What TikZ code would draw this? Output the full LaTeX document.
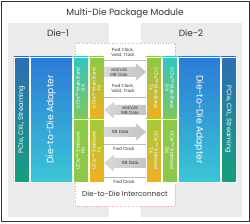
\documentclass[tikz,border=0pt]{standalone}
\usepackage{fontspec}
\setmainfont{Poppins}
\newfontfamily\smallf{Liberation Sans}
\definecolor{panel}{HTML}{EBEBEB}
\definecolor{pinkb}{HTML}{E8A0B4}
\definecolor{pcieT}{HTML}{2D6DB5}
\definecolor{pcieB}{HTML}{16A07C}
\definecolor{adT}{HTML}{2B7BD6}
\definecolor{adB}{HTML}{3AC6D6}
\definecolor{tealc}{HTML}{33C4C0}
\definecolor{greenc}{HTML}{8CC84A}
\definecolor{limec}{HTML}{A4CA3A}
\definecolor{orangec}{HTML}{F2B01E}
\definecolor{arrowgL}{HTML}{D8D8D8}
\definecolor{arrowgR}{HTML}{C4C4C4}
\definecolor{lineg}{HTML}{BBBBBB}
\definecolor{txt}{HTML}{333333}
\tikzset{
  colbox/.style={draw=white, line width=0.6pt, inner sep=0pt, minimum width=#1},
  coltext/.style={text=white, font=\smallf\fontsize{4.9}{5.4}\selectfont, align=center, inner sep=0pt},
  bigtext/.style={text=white, font=\fontsize{9.2}{10}\selectfont, inner sep=0pt},
  pcietext/.style={text=white, font=\fontsize{6.6}{7}\selectfont, inner sep=0pt},
  lbl/.style={text=txt, font=\smallf\fontsize{4.5}{4.9}\selectfont, align=center, inner sep=0pt},
  thinline/.style={draw=lineg, line width=0.4pt},
  blockarrow/.style={left color=arrowgL, right color=arrowgR},
  head/.style={text=txt, font=\fontsize{9}{10}\selectfont, inner sep=0pt}
}
\begin{document}
\begin{tikzpicture}[x=1pt,y=-1pt]
\useasboundingbox (0,0) rectangle (250,224);
\fill[white] (0,0) rectangle (250,224);
\draw[line width=0.9pt, black!80] (1,1) rectangle (249,221);
\node[head] (title) at (125,13) {Multi-Die Package Module};
% die panels
\fill[panel] (8,23) rectangle (109,217);
\fill[panel] (141,23) rectangle (242,217);
\node[head] (die1) at (58,33) {Die-1};
\node[head] (die2) at (191,33) {Die-2};
% interconnect box
\draw[pinkb, dotted, line width=0.7pt, fill=white] (75,43) rectangle (175,206);
\node[text=txt, font=\fontsize{7.2}{8}\selectfont, inner sep=0pt] (d2d) at (125,194) {Die-to-Die Interconnect};
% Die-1 columns
\node[colbox=15pt, minimum height=125pt, top color=pcieT, bottom color=pcieB] (pcie1) at (21.5,119.5) {};
\node[colbox=42pt, minimum height=125pt, top color=adT, bottom color=adB] (ad1) at (51,119.5) {};
\node[colbox=15pt, minimum height=62pt, top color=tealc, bottom color=greenc!85!tealc] (mbrx1) at (80.5,88) {};
\node[colbox=15pt, minimum height=62pt, top color=greenc, bottom color=orangec] (mbtx1) at (96.5,88) {};
\node[colbox=15pt, minimum height=63pt, top color=greenc, bottom color=greenc] (sbrx1) at (80.5,150.5) {};
\node[colbox=15pt, minimum height=63pt, top color=limec, bottom color=orangec] (sbtx1) at (96.5,150.5) {};
\node[pcietext, rotate=90] at (pcie1) {PCIe, CXL, Streaming};
\node[bigtext, rotate=90] at (ad1) {Die-to-Die Adapter};
\node[coltext, rotate=90] at (mbrx1) {UCIe\texttrademark\ Main Band\\RX};
\node[coltext, rotate=90] at (mbtx1) {UCIe\texttrademark\ Main Band\\TX};
\node[coltext, rotate=90] at (sbrx1) {UCIe\texttrademark\ Sideband\\RX};
\node[coltext, rotate=90] at (sbtx1) {UCIe\texttrademark\ Sideband\\TX};
% Die-2 columns
\node[colbox=15pt, minimum height=125pt, top color=pcieT, bottom color=pcieB] (pcie2) at (228.5,119.5) {};
\node[colbox=42pt, minimum height=125pt, top color=adT, bottom color=adB] (ad2) at (199,119.5) {};
\node[colbox=15pt, minimum height=62pt, top color=tealc, bottom color=greenc!85!tealc] (mbrx2) at (169.5,88) {};
\node[colbox=15pt, minimum height=62pt, top color=greenc, bottom color=orangec] (mbtx2) at (153.5,88) {};
\node[colbox=15pt, minimum height=63pt, top color=greenc, bottom color=greenc] (sbrx2) at (169.5,150.5) {};
\node[colbox=15pt, minimum height=63pt, top color=limec, bottom color=orangec] (sbtx2) at (153.5,150.5) {};
\node[pcietext, rotate=-90] at (pcie2) {PCIe, CXL, Streaming};
\node[bigtext, rotate=-90] at (ad2) {Die-to-Die Adapter};
\node[coltext, rotate=-90] at (mbrx2) {UCIe\texttrademark\ Main Band\\RX};
\node[coltext, rotate=-90] at (mbtx2) {UCIe\texttrademark\ Main Band\\TX};
\node[coltext, rotate=-90] at (sbrx2) {UCIe\texttrademark\ Sideband\\RX};
\node[coltext, rotate=-90] at (sbtx2) {UCIe\texttrademark\ Sideband\\TX};
% main band signals
\node[lbl] (fc1) at (123,53) {Fwd Clock,\\Valid, Track};
\draw[thinline] (mbtx1.east |- 0,60) -- (mbtx2.west |- 0,60);
\shade[blockarrow] (104,67) -- (136,67) -- (136,63.5) -- (146,72) -- (136,80.5) -- (136,77) -- (104,77) -- cycle;
\node[lbl] (mb1) at (119,72) {x64/x16\\MB Data};
\node[lbl] (fc2) at (123,89) {Fwd Clock,\\Valid, Track};
\draw[thinline] (mbtx1.east |- 0,97) -- (mbtx2.west |- 0,97);
\shade[blockarrow] (146,105) -- (114,105) -- (114,101.5) -- (104,110) -- (114,118.5) -- (114,115) -- (146,115) -- cycle;
\node[lbl] (mb2) at (130,110) {x64/x16\\MB Data};
% sideband signals
\shade[blockarrow] (104,127) -- (136,127) -- (136,123.5) -- (146,132) -- (136,140.5) -- (136,137) -- (104,137) -- cycle;
\node[lbl] (sb1) at (120,132) {SB Data};
\draw[thinline] (sbtx1.east |- 0,144) -- (sbtx2.west |- 0,144);
\node[lbl] (fc3) at (124,149) {Fwd Clock};
\shade[blockarrow] (146,158) -- (114,158) -- (114,154.5) -- (104,163) -- (114,171.5) -- (114,168) -- (146,168) -- cycle;
\node[lbl] (sb2) at (130,163) {SB Data};
\draw[thinline] (sbtx1.east |- 0,177) -- (sbtx2.west |- 0,177);
\node[lbl] (fc4) at (124,182) {Fwd Clock};
\end{tikzpicture}
\end{document}
